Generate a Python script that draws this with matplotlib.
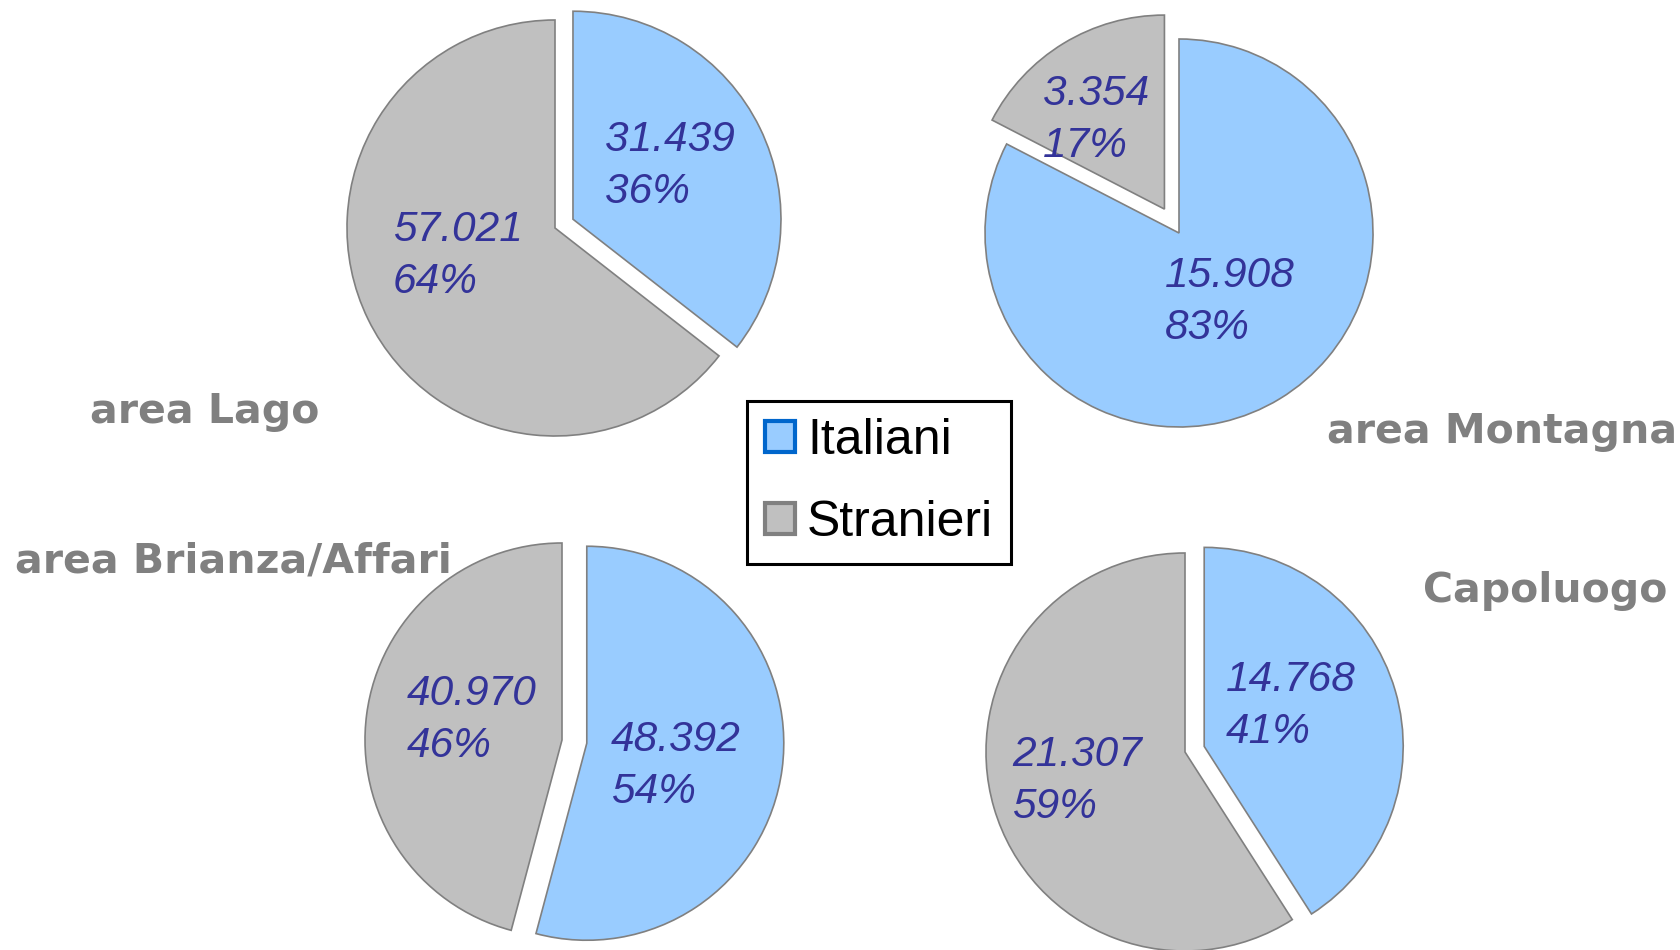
import matplotlib.pyplot as plt
from matplotlib.patches import Patch

W, H = 1681, 950

# dati
aree = ['area Lago', 'area Montagna', 'area Brianza/Affari', 'Capoluogo']
categorie = ['Italiani', 'Stranieri']
italiani = [31439, 15908, 48392, 14768]
stranieri = [57021, 3354, 40970, 21307]

# geometria in pixel dell'immagine (y verso il basso)
centri = [(555, 228), (1179, 233), (562, 740), (1185, 752)]
raggi = [208, 194, 197, 199]
esplosi = [(20, 0), (0, 28), (25, 0), (20, 0)]
pos_etich = [[(605, 166), (393, 256)],
             [(1165, 302), (1043, 120)],
             [(611, 766), (407, 720)],
             [(1226, 706), (1012, 781)]]
pos_titoli = [(205, 423), (1502, 443), (233, 573), (1545, 602)]

colori = ['#99CCFF', '#C0C0C0']
bordi_leg = ['#0066CC', '#808080']

fig = plt.figure(figsize=(W / 100, H / 100), dpi=100)
ax = fig.add_axes([0, 0, 1, 1])

for i in range(len(aree)):
    valori = [italiani[i], stranieri[i]]
    tot = sum(valori)
    cx, cy = centri[i]
    ax.pie(valori, colors=colori, startangle=90, counterclock=False,
           center=(cx, H - cy), radius=raggi[i], explode=esplosi[i],
           wedgeprops=dict(edgecolor='#808080', linewidth=1.2), frame=True)
    # etichette: valore e percentuale
    for v, (px, py) in zip(valori, pos_etich[i]):
        testo = f"{v:,}".replace(',', '.') + '\n' + f"{round(100 * v / tot)}%"
        ax.text(px, H - py, testo, ha='left', va='center', fontsize=30.5,
                style='italic', color='#333399', family='Liberation Sans',
                linespacing=1.38)
    tx, ty = pos_titoli[i]
    ax.text(tx, H - ty, aree[i], ha='center', va='baseline', fontsize=29.5,
            fontweight='bold', color='#808080', family='DejaVu Sans')

ax.set_xlim(0, W)
ax.set_ylim(0, H)
ax.axis('off')

handles = [Patch(facecolor=c, edgecolor=b, linewidth=3) for c, b in zip(colori, bordi_leg)]
leg = ax.legend(handles, categorie, loc='center',
                bbox_to_anchor=(879 / W, 1 - 482 / H), bbox_transform=fig.transFigure,
                prop={'family': 'Liberation Sans', 'size': 36},
                frameon=True, fancybox=False, edgecolor='black', framealpha=1,
                handlelength=0.6, handleheight=0.6, handletextpad=0.25,
                labelspacing=0.72, borderpad=0.35)
leg.get_frame().set_linewidth(2.2)

plt.savefig('out.png', dpi=100)
